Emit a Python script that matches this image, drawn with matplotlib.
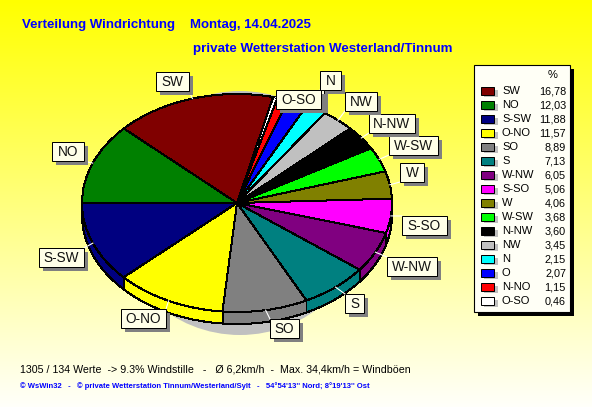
import numpy as np
import matplotlib
matplotlib.use("Agg")
import matplotlib.pyplot as plt
from matplotlib.colors import LinearSegmentedColormap
from matplotlib.patches import Rectangle, Ellipse, Polygon

directions = ["SW", "NO", "S-SW", "O-NO", "SO", "S", "W-NW", "S-SO",
              "W", "W-SW", "N-NW", "NW", "N", "O", "N-NO", "O-SO"]
shares = [16.78, 12.03, 11.88, 11.57, 8.89, 7.13, 6.05, 5.06,
          4.06, 3.68, 3.60, 3.45, 2.15, 2.07, 1.15, 0.46]
share_labels = ["16,78", "12,03", "11,88", "11,57", "8,89", "7,13", "6,05", "5,06",
                "4,06", "3,68", "3,60", "3,45", "2,15", "2,07", "1,15", "0,46"]
colors = ["#800000", "#008000", "#000080", "#FFFF00", "#808080", "#008080", "#800080", "#FF00FF",
          "#808000", "#00FF00", "#000000", "#C0C0C0", "#00FFFF", "#0000FF", "#FF0000", "#FFFFFF"]
# callout boxes: left, top, right, bottom in pixels
boxes = {"SW": (156, 72, 189, 91), "NO": (52, 142, 84, 161), "S-SW": (39, 248, 84, 267),
         "O-NO": (121, 309, 166, 328), "SO": (270, 319, 299, 338), "S": (345, 294, 364, 313),
         "W-NW": (387, 257, 437, 276), "S-SO": (402, 216, 447, 235), "W": (400, 163, 424, 182),
         "W-SW": (389, 136, 438, 155), "N-NW": (369, 114, 415, 133), "NW": (345, 92, 377, 111),
         "N": (320, 71, 341, 90), "O": (300, 90, 324, 109), "O-SO": (276, 90, 321, 109)}
box_order = ["SW", "NO", "S-SW", "O-NO", "SO", "S", "W-NW", "S-SO", "W", "W-SW", "N-NW", "NW", "N", "O", "O-SO"]

W, H = 592, 407
CX, CY, RX, RY, DEPTH = 237, 203, 155, 109, 12
START = 76.5
plt.rcParams["font.family"] = "Liberation Sans"

fig = plt.figure(figsize=(W / 100, H / 100), dpi=100)

bg = fig.add_axes([0, 0, 1, 1], zorder=0)
cmap = LinearSegmentedColormap.from_list("bg", ["#FFFF00", "#FFFFFA"])
bg.imshow(np.linspace(0, 1, 256)[:, None], aspect="auto", cmap=cmap, extent=(0, W, H, 0))
bg.set_xlim(0, W)
bg.set_ylim(H, 0)
bg.axis("off")
bg.add_patch(Ellipse((240, 213), 250, 244, facecolor="#C0C0C0", edgecolor="none"))

ax = fig.add_axes([(CX - RX) / W, 1 - (CY + RY) / H, 2 * RX / W, 2 * RY / H], zorder=2)

# extruded rim of the pie, one band per slice on the lower half
edges = START + np.concatenate([[0], np.cumsum(shares)]) * 3.6
shift = DEPTH / RY
for a0, a1, c in zip(edges[:-1], edges[1:], colors):
    lo, hi = max(a0, 180), min(a1, 360)
    if hi <= lo:
        continue
    t = np.radians(np.linspace(lo, hi, 60))
    x, y = np.cos(t), np.sin(t)
    pts = np.column_stack([np.r_[x, x[::-1]], np.r_[y, y[::-1] - shift]])
    ax.add_patch(Polygon(pts, closed=True, facecolor=c, edgecolor="black", lw=0.72,
                         antialiased=False, clip_on=False, zorder=0))

wedges, _ = ax.pie(shares, colors=colors, startangle=START, counterclock=True, radius=1,
                   wedgeprops={"edgecolor": "black", "linewidth": 0.72, "antialiased": False})
for w in wedges:
    w.set_zorder(2)
ax.set_aspect("auto")
ax.set_xlim(-1, 1)
ax.set_ylim(-1, 1)
ax.axis("off")

ov = fig.add_axes([0, 0, 1, 1], zorder=3)
ov.set_xlim(0, W)
ov.set_ylim(H, 0)
ov.axis("off")
ov.patch.set_alpha(0)

# leader lines and callouts
mids = dict(zip(directions, (edges[:-1] + edges[1:]) / 2))
for d in box_order:
    l, t, r, b = boxes[d]
    a = np.radians(mids[d])
    px, py = CX + RX * np.cos(a), CY - RY * np.sin(a)
    ex, ey = np.clip(px, l, r), np.clip(py, t, b)
    ov.plot([px, ex], [py, ey], color="white", lw=0.8, zorder=3)
for i, d in enumerate(box_order):
    l, t, r, b = boxes[d]
    z = 4 + i * 0.1
    ov.add_patch(Rectangle((l + 4, t + 4), r - l, b - t, facecolor="#808080", edgecolor="none", zorder=z))
    ov.add_patch(Rectangle((l, t), r - l, b - t, facecolor="#FFFFE8", edgecolor="black", lw=0.72, zorder=z + 0.01))
    if d != "O":
        ov.text((l + r) / 2, (t + b) / 2 + 0.3, d, ha="center", va="center", fontsize=9.8,
                color="#111111", zorder=z + 0.02)

# titles
ov.text(22, 25, "Verteilung Windrichtung", color="#0000FF", fontsize=9.5,
        fontweight="bold", va="center", ha="left")
ov.text(189.5, 25, "Montag, 14.04.2025", color="#0000FF", fontsize=9.5,
        fontweight="bold", va="center", ha="left")
ov.text(193, 49, "private Wetterstation Westerland/Tinnum", color="#0000FF", fontsize=9.6,
        fontweight="bold", va="center", ha="left")

# legend
ov.add_patch(Rectangle((478, 69), 96, 247, facecolor="black", edgecolor="none", zorder=2))
ov.add_patch(Rectangle((474, 65), 96, 247, facecolor="#FFFFF6", edgecolor="black", lw=0.8, zorder=3))
ov.text(553, 75, "%", ha="center", va="center", fontsize=8, zorder=6)
for i, (d, v, c) in enumerate(zip(directions, share_labels, colors)):
    y = 91 + 14 * i
    ov.add_patch(Rectangle((484, y - 1), 14, 7, facecolor="#C0C0C0", edgecolor="none", zorder=4))
    ov.add_patch(Rectangle((481, y - 4), 13, 8, facecolor=c, edgecolor="black", lw=0.72, zorder=5))
    ov.text(502, y, d, ha="left", va="center", fontsize=8, zorder=6)
    ov.text(566, y, v, ha="right", va="center", fontsize=7.8, zorder=6)

# footer
ov.text(20, 369, "1305 / 134 Werte  -> 9.3% Windstille   -   Ø 6,2km/h  -  Max. 34,4km/h = Windböen",
        fontsize=7.68, va="center", ha="left", color="black")
ov.text(20, 386, "© WsWin32   -   © private Wetterstation Tinnum/Westerland/Sylt   -   54°54'13'' Nord; 8°19'13'' Ost",
        fontsize=5.5, fontweight="bold", va="center", ha="left", color="#0000FF")

fig.savefig("out.png", dpi=100)
